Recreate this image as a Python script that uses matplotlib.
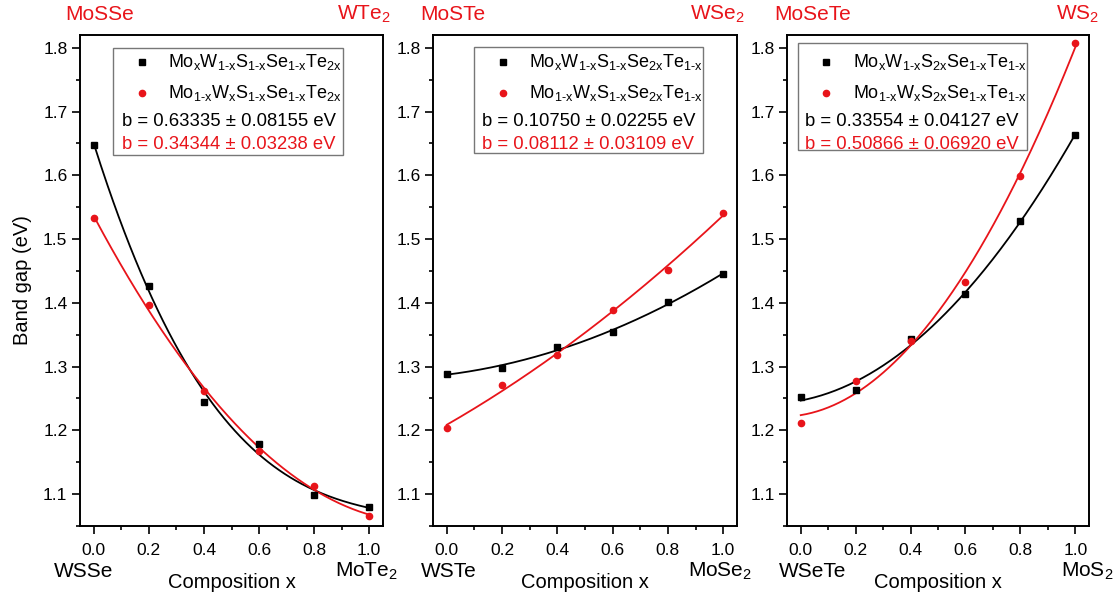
import numpy as np
import matplotlib.pyplot as plt

plt.rcParams['font.family'] = ['Liberation Sans', 'DejaVu Sans']
plt.rcParams['mathtext.fontset'] = 'custom'
plt.rcParams['mathtext.rm'] = 'Liberation Sans'
plt.rcParams['mathtext.it'] = 'Liberation Sans:italic'

RED = '#e8141a'

x = [0.0, 0.2, 0.4, 0.6, 0.8, 1.0]

# MoSSe -> WTe2 panel
gap1_black = [1.648, 1.427, 1.244, 1.179, 1.098, 1.080]
gap1_red = [1.533, 1.396, 1.262, 1.168, 1.113, 1.066]
# MoSTe -> WSe2 panel
gap2_black = [1.289, 1.298, 1.330, 1.354, 1.401, 1.445]
gap2_red = [1.204, 1.271, 1.318, 1.388, 1.452, 1.541]
# MoSeTe -> WS2 panel
gap3_black = [1.252, 1.263, 1.344, 1.414, 1.529, 1.663]
gap3_red = [1.212, 1.277, 1.340, 1.432, 1.599, 1.808]

sub = lambda s: r'$_\text{' + s + '}$'

labels_black = [
    'Mo' + sub('x') + 'W' + sub('1-x') + 'S' + sub('1-x') + 'Se' + sub('1-x') + 'Te' + sub('2x'),
    'Mo' + sub('x') + 'W' + sub('1-x') + 'S' + sub('1-x') + 'Se' + sub('2x') + 'Te' + sub('1-x'),
    'Mo' + sub('x') + 'W' + sub('1-x') + 'S' + sub('2x') + 'Se' + sub('1-x') + 'Te' + sub('1-x'),
]
labels_red = [
    'Mo' + sub('1-x') + 'W' + sub('x') + 'S' + sub('1-x') + 'Se' + sub('1-x') + 'Te' + sub('2x'),
    'Mo' + sub('1-x') + 'W' + sub('x') + 'S' + sub('1-x') + 'Se' + sub('2x') + 'Te' + sub('1-x'),
    'Mo' + sub('1-x') + 'W' + sub('x') + 'S' + sub('2x') + 'Se' + sub('1-x') + 'Te' + sub('1-x'),
]
bowing_black = ['b = 0.63335 ± 0.08155 eV', 'b = 0.10750 ± 0.02255 eV', 'b = 0.33554 ± 0.04127 eV']
bowing_red = ['b = 0.34344 ± 0.03238 eV', 'b = 0.08112 ± 0.03109 eV', 'b = 0.50866 ± 0.06920 eV']
fit_deg_black = [3, 2, 2]
fit_deg_red = [2, 2, 2]

top_left = ['MoSSe', 'MoSTe', 'MoSeTe']
top_right = ['WTe' + sub('2'), 'WSe' + sub('2'), 'WS' + sub('2')]
bottom_left = ['WSSe', 'WSTe', 'WSeTe']
bottom_right = ['MoTe' + sub('2'), 'MoSe' + sub('2'), 'MoS' + sub('2')]

black_sets = [gap1_black, gap2_black, gap3_black]
red_sets = [gap1_red, gap2_red, gap3_red]

# layout of each panel and its key box (axes fractions)
lefts = [80, 433, 787]
widths = [303, 304, 302]
box = [(0.109, 0.756, 0.759, 0.218), (0.135, 0.759, 0.754, 0.217), (0.037, 0.766, 0.759, 0.217)]
marker_x = [0.204, 0.229, 0.129]
label_x = [0.29, 0.316, 0.219]
b_x = [0.139, 0.161, 0.06]
top_pos = [(0.02, 0.98), (0.02, 0.98), (0.045, 1.007)]
bot_pos = [(-0.036, 0.99), (0.008, 0.987), (0.043, 1.045)]

fig = plt.figure(figsize=(11.19, 5.96), dpi=100)
xs = np.linspace(0, 1, 200)

for i in range(3):
    ax = fig.add_axes([lefts[i] / 1119, 1 - 526 / 596, widths[i] / 1119, 491 / 596])
    yb = black_sets[i]
    yr = red_sets[i]
    ax.plot(xs, np.polyval(np.polyfit(x, yb, fit_deg_black[i]), xs), color='black', lw=1.3)
    ax.plot(xs, np.polyval(np.polyfit(x, yr, fit_deg_red[i]), xs), color=RED, lw=1.3)
    ax.plot(x, yb, 's', color='black', ms=4.5, ls='none')
    ax.plot(x, yr, 'o', color=RED, ms=4.5, ls='none')

    ax.set_xlim(-0.05, 1.05)
    ax.set_ylim(1.05, 1.82)
    ax.set_xticks([0.0, 0.2, 0.4, 0.6, 0.8, 1.0])
    ax.set_xticks(np.arange(0, 1.01, 0.1), minor=True)
    ax.set_yticks([1.1, 1.2, 1.3, 1.4, 1.5, 1.6, 1.7, 1.8])
    ax.set_yticks(np.arange(1.05, 1.81, 0.05), minor=True)
    ax.xaxis.set_major_formatter(plt.FormatStrFormatter('%.1f'))
    ax.yaxis.set_major_formatter(plt.FormatStrFormatter('%.1f'))
    ax.tick_params(which='major', direction='out', length=6, width=1.2, labelsize=12.5, pad=3)
    ax.tick_params(which='minor', direction='out', length=3, width=1.2)
    ax.tick_params(axis='x', which='both', pad=6)
    for s in ax.spines.values():
        s.set_linewidth(1.4)

    ax.set_xlabel('Composition x', fontsize=14.5, labelpad=11)
    if i == 0:
        ax.set_ylabel('Band gap (eV)', fontsize=14.5, labelpad=8)

    # compound names at both ends of the composition axis
    tr = ax.get_xaxis_transform()
    ax.text(top_pos[i][0], 1.042, top_left[i], transform=tr, color=RED, fontsize=15,
            ha='center', va='center', clip_on=False)
    ax.text(top_pos[i][1], 1.042, top_right[i], transform=tr, color=RED, fontsize=15,
            ha='center', va='center', clip_on=False)
    ax.text(bot_pos[i][0], -0.092, bottom_left[i], transform=tr, fontsize=15,
            ha='center', va='center', clip_on=False)
    ax.text(bot_pos[i][1], -0.092, bottom_right[i], transform=tr, fontsize=15,
            ha='center', va='center', clip_on=False)

    # key box
    bx, by, bw, bh = box[i]
    ax.add_patch(plt.Rectangle((bx, by), bw, bh, transform=ax.transAxes, fill=True,
                               facecolor='white', edgecolor='#777777', lw=1.0, zorder=5))
    rows = [0.946, 0.882, 0.823, 0.776]
    ax.plot([marker_x[i]], [rows[0]], 's', color='black', ms=4.5, transform=ax.transAxes, zorder=6)
    ax.plot([marker_x[i]], [rows[1]], 'o', color=RED, ms=4.5, transform=ax.transAxes, zorder=6)
    ax.text(label_x[i], rows[0], labels_black[i], transform=ax.transAxes, fontsize=13,
            va='center', zorder=6)
    ax.text(label_x[i], rows[1], labels_red[i], transform=ax.transAxes, fontsize=13,
            va='center', zorder=6)
    ax.text(b_x[i], rows[2], bowing_black[i], transform=ax.transAxes, fontsize=13.3,
            va='center', zorder=6)
    ax.text(b_x[i], rows[3], bowing_red[i], transform=ax.transAxes, fontsize=13.3,
            va='center', color=RED, zorder=6)

fig.savefig('out.png', dpi=100)
